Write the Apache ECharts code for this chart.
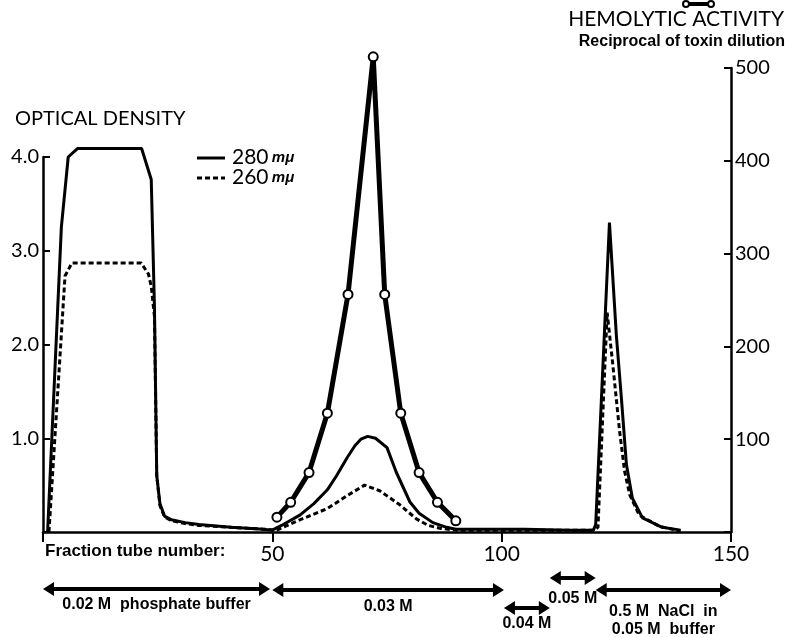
<!DOCTYPE html>
<html>
<head>
<meta charset="utf-8">
<script src="https://cdn.jsdelivr.net/npm/echarts@6/dist/echarts.min.js"></script>
<style>
  html, body { margin: 0; padding: 0; background: #fff; }
  #chart { width: 795px; height: 637px; }
</style>
</head>
<body>
<div id="chart"></div>
<script>
// optical density at 280 mu (solid)
var tubes280 = [1, 4, 5.5, 7.5, 21.5, 23.6, 24.3, 24.8, 25.5, 26.5, 28, 31, 34, 41, 48, 50,
    52, 56, 59, 62, 64, 66.4, 68, 69.3, 70.8, 72.5, 75, 77, 80, 82, 85, 88, 90,
    95, 105, 115, 120, 120.5, 123.5, 125, 126.1, 127.2, 128.5, 130.7, 135, 139];
var od280 = [0, 3.25, 4.0, 4.09, 4.09, 3.76, 2.4, 0.6, 0.3, 0.17, 0.13, 0.1, 0.08, 0.05, 0.03, 0.02,
    0.07, 0.18, 0.3, 0.45, 0.6, 0.8, 0.92, 0.99, 1.02, 1.0, 0.9, 0.64, 0.32, 0.2, 0.1, 0.05, 0.03,
    0.03, 0.03, 0.02, 0.02, 0.08, 3.3, 2.1, 1.43, 0.72, 0.36, 0.15, 0.05, 0.02];

// optical density at 260 mu (dashed)
var tubes260 = [1.3, 4.8, 6.3, 21.4, 23.0, 23.6, 24.3, 24.8, 25.5, 26.5, 28, 31, 34, 41, 48, 51,
    54.6, 58, 62, 66.4, 70.1, 73.4, 77.8, 81.4, 84, 86.5, 90,
    100, 110, 120, 121, 123, 124.2, 125.7, 126.8, 127.9, 130, 134.4, 139];
var od260 = [0, 2.73, 2.87, 2.87, 2.75, 2.62, 2.3, 0.6, 0.28, 0.16, 0.12, 0.09, 0.07, 0.05, 0.03, 0.02,
    0.1, 0.17, 0.25, 0.39, 0.5, 0.44, 0.29, 0.14, 0.07, 0.04, 0.02,
    0.02, 0.02, 0.02, 0.05, 2.34, 1.8, 1.08, 0.65, 0.4, 0.18, 0.06, 0.01];

// hemolytic activity (reciprocal of toxin dilution)
var tubesHemo = [51, 54, 58, 62, 66.5, 72, 74.5, 78, 82, 86, 90];
var hemo = [16, 32, 64, 128, 256, 512, 256, 128, 64, 32, 12];

var odTicks = [1.0, 2.0, 3.0, 4.0];
var hemoTicks = [100, 200, 300, 400, 500];
var tubeTicks = [50, 100, 150];

// buffer steps under the axis: [from tube, to tube, label]
var bufferSteps = [
    [0, 49.5, '0.02 M  phosphate buffer'],
    [50, 100.5, '0.03 M'],
    [100.5, 110.5, '0.04 M'],
    [110.5, 120.5, '0.05 M'],
    [120.5, 150, '0.5 M  NaCl  in\n0.05 M  buffer']
];

function pairs(xs, ys) {
    return xs.map(function (x, i) { return [x, ys[i]]; });
}

var chart = echarts.init(document.getElementById('chart'));
var font = 'Lato, "DejaVu Sans", sans-serif';
var narrow = '"Liberation Sans Narrow", "Liberation Sans", sans-serif';

var option = {
    animation: false,
    grid: [
        { left: 43, right: 64, top: 157, bottom: 105 },
        { left: 43, right: 64, top: 68, bottom: 105 }
    ],
    xAxis: [
        {
            gridIndex: 0, type: 'value', min: 0, max: 150, interval: 50,
            splitLine: { show: false },
            axisLine: { onZero: false, lineStyle: { color: '#000', width: 2.5 } },
            axisTick: { length: 10, lineStyle: { color: '#000', width: 2 } },
            axisLabel: {
                margin: 12, fontFamily: font, fontSize: 21, color: '#000',
                formatter: function (v) { return tubeTicks.indexOf(v) >= 0 ? String(v) : ''; }
            }
        },
        { gridIndex: 1, type: 'value', min: 0, max: 150, show: false }
    ],
    yAxis: [
        {
            gridIndex: 0, type: 'value', min: 0, max: 4, interval: 1, position: 'left',
            splitLine: { show: false },
            axisLine: { show: true, onZero: false, lineStyle: { color: '#000', width: 2.5 } },
            axisTick: { inside: true, length: 7, lineStyle: { color: '#000', width: 2 } },
            axisLabel: {
                margin: 4, fontFamily: font, fontSize: 20, color: '#000',
                formatter: function (v) { return odTicks.indexOf(v) >= 0 ? v.toFixed(1) : ''; }
            }
        },
        {
            gridIndex: 1, type: 'value', min: 0, max: 500, interval: 100, position: 'right',
            splitLine: { show: false },
            axisLine: { show: true, onZero: false, lineStyle: { color: '#000', width: 2.5 } },
            axisTick: { inside: true, length: 7, lineStyle: { color: '#000', width: 2 } },
            axisLabel: {
                margin: 4, fontFamily: font, fontSize: 20, color: '#000',
                formatter: function (v) { return hemoTicks.indexOf(v) >= 0 ? String(v) : ''; }
            }
        }
    ],
    series: [
        {
            name: '280 mμ', type: 'line', xAxisIndex: 0, yAxisIndex: 0,
            data: pairs(tubes280, od280), symbol: 'none', clip: false,
            lineStyle: { color: '#000', width: 3 }
        },
        {
            name: '260 mμ', type: 'line', xAxisIndex: 0, yAxisIndex: 0,
            data: pairs(tubes260, od260), symbol: 'none', clip: false,
            lineStyle: { color: '#000', width: 3, type: [5, 3] }
        },
        {
            name: 'Hemolytic activity', type: 'line', xAxisIndex: 1, yAxisIndex: 1,
            data: pairs(tubesHemo, hemo), clip: false,
            symbol: 'circle', symbolSize: 9, showAllSymbol: true,
            lineStyle: { color: '#000', width: 5 },
            itemStyle: { color: '#fff', borderColor: '#000', borderWidth: 2 }
        }
    ]
};
chart.setOption(option);

// titles, key and the buffer steps along the bottom
var graphics = [
    { type: 'text', left: 15, top: 109, style: { text: 'OPTICAL DENSITY', font: '20px ' + font, fill: '#000' } },
    { type: 'text', right: 11, top: 9, style: { text: 'HEMOLYTIC ACTIVITY', font: '21px ' + font, fill: '#000' } },
    { type: 'text', right: 10, top: 34, style: { text: 'Reciprocal of toxin dilution', font: 'bold 16px ' + narrow, fill: '#000' } },
    { type: 'line', shape: { x1: 686, y1: 4, x2: 711, y2: 4 }, style: { stroke: '#000', lineWidth: 4 } },
    { type: 'circle', shape: { cx: 686, cy: 4, r: 3 }, style: { fill: '#fff', stroke: '#000', lineWidth: 2 } },
    { type: 'circle', shape: { cx: 711, cy: 4, r: 3 }, style: { fill: '#fff', stroke: '#000', lineWidth: 2 } },
    { type: 'line', shape: { x1: 197, y1: 158, x2: 225, y2: 158 }, style: { stroke: '#000', lineWidth: 3 } },
    { type: 'line', shape: { x1: 197, y1: 178, x2: 225, y2: 178 }, style: { stroke: '#000', lineWidth: 3, lineDash: [5, 3] } },
    {
        type: 'text', left: 232, top: 147,
        style: {
            text: '{n|280} {u|mμ}\n{n|260} {u|mμ}',
            rich: {
                n: { font: '21px ' + font, fill: '#000', lineHeight: 20 },
                u: { font: 'italic bold 15px ' + narrow, fill: '#000', lineHeight: 20 }
            }
        }
    },
    { type: 'text', left: 45, top: 543, style: { text: 'Fraction tube number:', font: 'bold 17px ' + narrow, fill: '#000' } }
];

var rowY = [589, 590, 608, 578, 590];
var labelY = [596, 598, 615, 590, 603];
bufferSteps.forEach(function (s, i) {
    var x1 = chart.convertToPixel({ xAxisIndex: 0 }, s[0]);
    var x2 = chart.convertToPixel({ xAxisIndex: 0 }, s[1]);
    var y = rowY[i];
    graphics.push({ type: 'line', shape: { x1: x1 + 6, y1: y, x2: x2 - 6, y2: y }, style: { stroke: '#000', lineWidth: 4 } });
    graphics.push({ type: 'polygon', shape: { points: [[x1, y], [x1 + 11, y - 7], [x1 + 11, y + 7]] }, style: { fill: '#000' } });
    graphics.push({ type: 'polygon', shape: { points: [[x2, y], [x2 - 11, y - 7], [x2 - 11, y + 7]] }, style: { fill: '#000' } });
    graphics.push({
        type: 'text', x: (x1 + x2) / 2, y: labelY[i],
        style: { text: s[2], font: 'bold 16px ' + narrow, fill: '#000', align: 'center', lineHeight: 18 }
    });
});

chart.setOption({ graphic: graphics });
</script>
</body>
</html>
